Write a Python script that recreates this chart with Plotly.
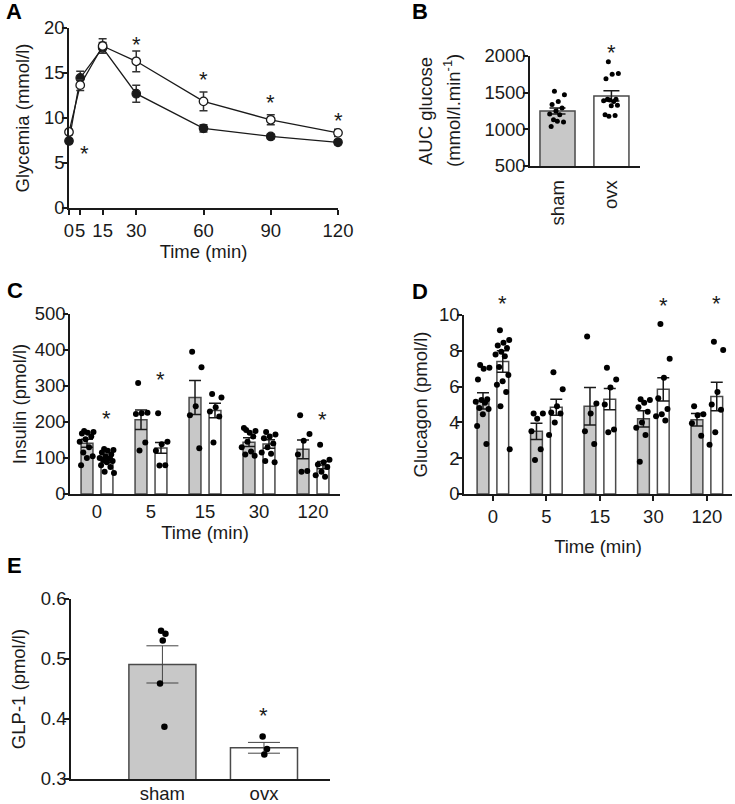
import numpy as np
import plotly.graph_objects as go

W, H = 735, 804
FONT = "Liberation Sans, Arial, sans-serif"
FS = 18.5
INK = "#1a1a1a"
GRAY_FILL = "#c8c8c8"
EDGE = "#4a4a4a"

# ---------------- Panel A: glycemia time course ----------------
time_a = [0, 5, 15, 30, 60, 90, 120]
sham_glc = [7.45, 14.45, 17.8, 12.7, 8.85, 7.95, 7.3]
sham_glc_sem = [0.25, 0.75, 0.6, 0.95, 0.4, 0.25, 0.25]
ovx_glc = [8.45, 13.65, 18.0, 16.3, 11.85, 9.8, 8.35]
ovx_glc_sem = [0.3, 0.6, 0.8, 1.15, 1.05, 0.55, 0.4]
star_a_x = [7, 30, 60, 90, 120]
star_a_y = [6.6, 18.7, 14.8, 12.3, 10.3]

# ---------------- Panel B: AUC glucose ----------------
auc_groups = ["sham", "ovx"]
auc_mean = [1250, 1455]
auc_sem = [40, 70]
auc_sham_pts = [1520, 1470, 1380, 1340, 1290, 1250, 1210, 1200, 1130, 1100, 1110, 1040]
auc_ovx_pts = [1920, 1760, 1750, 1690, 1410, 1400, 1390, 1380, 1410, 1330, 1320, 1200, 1190, 1180]
auc_star_y = 2110

# ---------------- Panel C: insulin ----------------
time_cats = ["0", "5", "15", "30", "120"]
ins_sham_mean = [141, 206, 268, 144, 124]
ins_sham_sem = [11, 27, 47, 12, 26]
ins_ovx_mean = [94, 128, 232, 139, 80]
ins_ovx_sem = [7, 15, 20, 12, 10]
ins_sham_pts = [
    [175, 172, 170, 168, 160, 152, 145, 130, 115, 105, 100, 80],
    [308, 226, 224, 222, 143, 121],
    [395, 352, 244, 219, 127],
    [178, 175, 170, 183, 160, 145, 130, 118, 110, 106],
    [219, 167, 148, 110, 64, 62],
]
ins_ovx_pts = [
    [125, 122, 120, 115, 110, 105, 100, 98, 95, 92, 88, 80, 75, 62, 58],
    [224, 145, 138, 120, 80, 79],
    [278, 268, 241, 229, 215, 143],
    [172, 165, 160, 155, 140, 130, 115, 112, 92, 88],
    [137, 95, 88, 82, 75, 62, 52, 48],
]
ins_star_idx = [0, 1, 4]
ins_star_y = [224, 332, 222]

# ---------------- Panel D: glucagon ----------------
glu_sham_mean = [5.2, 3.5, 4.9, 4.2, 4.15]
glu_sham_sem = [0.45, 0.45, 1.05, 0.45, 0.35]
glu_ovx_mean = [7.4, 4.85, 5.3, 5.85, 5.45]
glu_ovx_sem = [0.6, 0.45, 0.6, 0.65, 0.8]
glu_sham_pts = [
    [7.2, 7.05, 7.0, 6.4, 5.3, 5.25, 5.15, 5.1, 4.8, 4.75, 4.45, 3.8, 2.8],
    [4.5, 4.5, 4.2, 3.5, 2.5, 1.9],
    [8.8, 5.05, 4.5, 3.5, 2.8],
    [5.3, 5.25, 5.1, 4.85, 4.6, 4.0, 3.7, 3.3, 1.8],
    [4.9, 4.45, 4.4, 3.95, 3.25],
]
glu_ovx_pts = [
    [9.15, 8.6, 8.45, 8.3, 8.15, 7.95, 7.8, 7.7, 7.1, 6.65, 6.3, 6.1, 5.7, 4.9, 2.5],
    [6.8, 5.85, 4.9, 4.55, 4.5, 4.0, 3.3],
    [7.05, 6.4, 5.95, 5.0, 3.6, 3.45],
    [9.5, 7.55, 6.5, 5.35, 4.75, 4.45, 4.35, 4.1],
    [8.5, 8.05, 5.7, 5.0, 4.7, 3.45, 2.75],
]
glu_star_idx = [0, 3, 4]
glu_star_y = [10.9, 10.8, 10.9]

# ---------------- Panel E: GLP-1 ----------------
glp_groups = ["sham", "ovx"]
glp_mean = [0.491, 0.352]
glp_sem = [0.031, 0.009]
glp_sham_pts = [0.547, 0.542, 0.531, 0.459, 0.387]
glp_ovx_pts = [0.371, 0.350, 0.341]
glp_star_y = 0.415


def xd(left, right):
    return [left / W, right / W]


def yd(top, bottom):
    return [1 - bottom / H, 1 - top / H]


# y-axis geometry (domain in paper units, value range)
YAX = {
    "y": dict(domain=yd(28, 208), range=[0, 20]),
    "y2": dict(domain=yd(56, 166), range=[500, 2000]),
    "y3": dict(domain=yd(314, 494), range=[0, 500]),
    "y4": dict(domain=yd(315, 494), range=[0, 10]),
    "y5": dict(domain=yd(599, 779), range=[0.3, 0.6]),
}


def y_to_paper(yname, v):
    d0, d1 = YAX[yname]["domain"]
    r0, r1 = YAX[yname]["range"]
    return d0 + (v - r0) / (r1 - r0) * (d1 - d0)


def jitter(n, spread):
    k = np.arange(n)
    return ((k * 0.618034 + 0.31) % 1.0 * 2 - 1) * spread


def axis(**kw):
    d = dict(
        showline=True, linecolor=INK, linewidth=1.5,
        ticks="outside", ticklen=5, tickwidth=1.5, tickcolor=INK,
        showgrid=False, zeroline=False, fixedrange=True, tickangle=0,
        tickfont=dict(size=FS, color=INK, family=FONT),
        title_font=dict(size=FS, color=INK, family=FONT),
        automargin=False,
    )
    d.update(kw)
    return d


def yaxis_style(name, **kw):
    kw.setdefault("ticklabelstandoff", -6)
    return axis(anchor="x" + name[1:], domain=YAX[name]["domain"],
                range=YAX[name]["range"], **kw)


fig = go.Figure()

# ----- Panel A -----
err_a = dict(type="data", visible=True, color="#333333", thickness=1.5, width=4)
fig.add_trace(go.Scatter(
    x=time_a, y=sham_glc, mode="lines+markers", xaxis="x", yaxis="y",
    line=dict(color=INK, width=1.3),
    marker=dict(size=8.5, color=INK, line=dict(color=INK, width=1.2)),
    error_y=dict(array=sham_glc_sem, **err_a), cliponaxis=False, name="sham"))
fig.add_trace(go.Scatter(
    x=time_a, y=ovx_glc, mode="lines+markers", xaxis="x", yaxis="y",
    line=dict(color=INK, width=1.3),
    marker=dict(size=8.5, color="white", line=dict(color=INK, width=1.3)),
    error_y=dict(array=ovx_glc_sem, **err_a), cliponaxis=False, name="ovx"))

# ----- Panel B -----
bx = np.arange(len(auc_groups))
fig.add_trace(go.Bar(
    x=bx, y=auc_mean, width=0.65, xaxis="x2", yaxis="y2",
    marker=dict(color=[GRAY_FILL, "white"], line=dict(color=EDGE, width=1.5)),
    error_y=dict(type="data", array=auc_sem, visible=True, color=INK, thickness=1.5, width=8)))
for i, pts in enumerate([auc_sham_pts, auc_ovx_pts]):
    fig.add_trace(go.Scatter(
        x=bx[i] + jitter(len(pts), 0.15), y=pts, mode="markers", xaxis="x2", yaxis="y2",
        marker=dict(size=5, color="black"), cliponaxis=False))

# ----- Panel C / D -----
OFF, BW = 0.185, 0.22
cx = np.arange(len(time_cats))


def grouped(xa, ya, sm, ss, om, os_, spts, opts, err_w):
    fig.add_trace(go.Bar(
        x=cx - OFF, y=sm, width=BW, xaxis=xa, yaxis=ya,
        marker=dict(color=GRAY_FILL, line=dict(color=EDGE, width=1.5)),
        error_y=dict(type="data", array=ss, visible=True, color=INK, thickness=1.5, width=err_w)))
    fig.add_trace(go.Bar(
        x=cx + OFF, y=om, width=BW, xaxis=xa, yaxis=ya,
        marker=dict(color="white", line=dict(color=EDGE, width=1.5)),
        error_y=dict(type="data", array=os_, visible=True, color=INK, thickness=1.5, width=err_w)))
    for side, groups in ((-OFF, spts), (OFF, opts)):
        xs, ys = [], []
        for i, pts in enumerate(groups):
            xs.extend(list(cx[i] + side + jitter(len(pts), 0.14)))
            ys.extend(pts)
        fig.add_trace(go.Scatter(
            x=xs, y=ys, mode="markers", xaxis=xa, yaxis=ya,
            marker=dict(size=6, color="black"), cliponaxis=False))


grouped("x3", "y3", ins_sham_mean, ins_sham_sem, ins_ovx_mean, ins_ovx_sem,
        ins_sham_pts, ins_ovx_pts, 6)
grouped("x4", "y4", glu_sham_mean, glu_sham_sem, glu_ovx_mean, glu_ovx_sem,
        glu_sham_pts, glu_ovx_pts, 6)

# ----- Panel E -----
ex = np.arange(len(glp_groups))
fig.add_trace(go.Bar(
    x=ex, y=glp_mean, width=0.66, xaxis="x5", yaxis="y5",
    marker=dict(color=[GRAY_FILL, "white"], line=dict(color=EDGE, width=1.5)),
    error_y=dict(type="data", array=glp_sem, visible=True, color="#444444", thickness=1, width=16)))
for i, pts in enumerate([glp_sham_pts, glp_ovx_pts]):
    fig.add_trace(go.Scatter(
        x=ex[i] + jitter(len(pts), 0.035), y=pts, mode="markers", xaxis="x5", yaxis="y5",
        marker=dict(size=6.5, color="black"), cliponaxis=False))

# ----- stars (x in data units, y mapped through the axis onto the page) -----
annotations = []


def star(x, y, xr, yr, size=22):
    annotations.append(dict(
        x=x, y=y_to_paper(yr, y), xref=xr, yref="paper", text="*", showarrow=False,
        xanchor="center", yanchor="middle",
        font=dict(size=size, color=INK, family=FONT), yshift=-5))


for x, y in zip(star_a_x, star_a_y):
    star(x, y, "x", "y")
star(bx[1], auc_star_y, "x2", "y2")
for i, y in zip(ins_star_idx, ins_star_y):
    star(cx[i] + OFF, y, "x3", "y3")
for i, y in zip(glu_star_idx, glu_star_y):
    star(cx[i] + OFF, y, "x4", "y4")
star(ex[1], glp_star_y, "x5", "y5")

# ----- panel B y title (two lines, placed as text) -----
for txt, px in (("AUC glucose", 425), ("(mmol/l.min<sup>-1</sup>)", 452)):
    annotations.append(dict(
        x=px / W, y=1 - 111 / H, xref="paper", yref="paper", text=txt, textangle=-90,
        showarrow=False, xanchor="center", yanchor="middle",
        font=dict(size=FS, color=INK, family=FONT)))

# ----- panel letters -----
for letter, px, py in (("A", 14.5, 11), ("B", 420, 11), ("C", 15, 290),
                       ("D", 420, 291), ("E", 14.5, 565)):
    annotations.append(dict(
        x=px / W, y=1 - py / H, xref="paper", yref="paper", text="<b>%s</b>" % letter,
        showarrow=False, xanchor="center", yanchor="middle",
        font=dict(size=22, color="black", family=FONT)))

fig.update_layout(
    width=W, height=H, margin=dict(l=0, r=0, t=0, b=0),
    paper_bgcolor="white", plot_bgcolor="white", showlegend=False,
    font=dict(family=FONT, size=FS, color=INK),
    barmode="overlay",
    annotations=annotations,
    xaxis=axis(domain=xd(69, 338), anchor="y", range=[0, 120],
               tickvals=time_a, ticktext=[str(t) for t in time_a],
               title=dict(text="Time (min)", standoff=2)),
    yaxis=yaxis_style("y", tickvals=[0, 5, 10, 15, 20],
                      title=dict(text="Glycemia (mmol/l)", standoff=9)),
    xaxis2=axis(domain=xd(530, 640), anchor="y2", range=[-0.51, 1.53], ticks="",
                tickvals=list(bx), ticktext=auc_groups, tickangle=-90,
                ticklabelstandoff=5),
    yaxis2=yaxis_style("y2", tickvals=[500, 1000, 1500, 2000]),
    xaxis3=axis(domain=xd(70, 340), anchor="y3", range=[-0.5, 4.5], ticks="",
                tickvals=list(cx), ticktext=time_cats,
                title=dict(text="Time (min)", standoff=2)),
    yaxis3=yaxis_style("y3", tickvals=[0, 100, 200, 300, 400, 500],
                       title=dict(text="Insulin (pmol/l)", standoff=3)),
    xaxis4=axis(domain=xd(464, 732), anchor="y4", range=[-0.54, 4.47],
                tickvals=list(cx), ticktext=time_cats,
                title=dict(text="Time (min)", standoff=14)),
    yaxis4=yaxis_style("y4", tickvals=[0, 2, 4, 6, 8, 10],
                       title=dict(text="Glucagon (pmol/l)", standoff=6)),
    xaxis5=axis(domain=xd(71, 330), anchor="y5", range=[-0.9, 1.65], ticks="",
                tickvals=list(ex), ticktext=glp_groups, ticklabelstandoff=-3),
    yaxis5=yaxis_style("y5", tickvals=[0.3, 0.4, 0.5, 0.6], tickformat=".1f",
                       title=dict(text="GLP-1 (pmol/l)", standoff=10)),
)

fig.write_html("out.html", config={"displayModeBar": False},
               post_script="document.body.style.margin='0px';")
